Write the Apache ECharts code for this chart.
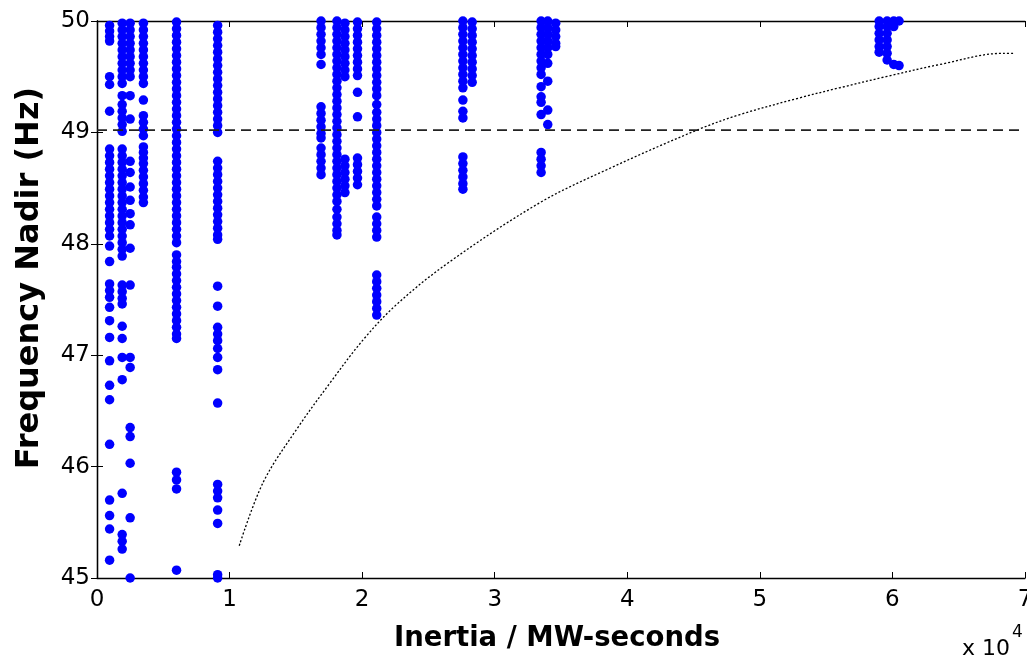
<!DOCTYPE html>
<html>
<head>
<meta charset="utf-8">
<script src="https://cdn.jsdelivr.net/npm/echarts@6/dist/echarts.min.js"></script>
<style>
html,body{margin:0;padding:0;background:#fff;overflow:hidden;}
#chart{width:1027px;height:663px;}
</style>
</head>
<body>
<div id="chart"></div>
<script>
// x values are in units of 10^4 MW-seconds
const xTicks = [0, 1, 2, 3, 4, 5, 6, 7];
const yTicks = [45, 46, 47, 48, 49, 50];
const thresholdY = 49.02;

const colA_x = 0.095;
const colA_y = [49.96, 49.91, 49.86, 49.82, 49.50, 49.43, 49.19, 48.85, 48.79, 48.73, 48.67, 48.61, 48.55, 48.49, 48.43, 48.37, 48.31, 48.25, 48.19, 48.13, 48.07, 47.98, 47.84, 47.64, 47.58, 47.52, 47.43, 47.31, 47.16, 46.95, 46.73, 46.60, 46.20, 45.70, 45.56, 45.44, 45.16];
const colB1_x = 0.19;
const colB1_y = [49.98, 49.92, 49.86, 49.80, 49.74, 49.68, 49.62, 49.56, 49.50, 49.44, 49.33, 49.25, 49.19, 49.13, 49.07, 49.01, 48.85, 48.79, 48.73, 48.67, 48.61, 48.55, 48.49, 48.43, 48.37, 48.31, 48.25, 48.19, 48.13, 48.07, 48.01, 47.95, 47.89, 47.63, 47.57, 47.51, 47.46, 47.26, 47.15, 46.98, 46.78, 45.76, 45.39, 45.33, 45.26];
const colB2_x = 0.25;
const colB2_y = [49.98, 49.92, 49.86, 49.80, 49.74, 49.68, 49.62, 49.56, 49.50, 49.33, 49.12, 48.74, 48.64, 48.51, 48.39, 48.27, 48.17, 47.96, 47.63, 46.98, 46.89, 46.35, 46.27, 46.03, 45.54, 45.00];
const colC_x = 0.35;
const colC_y = [49.98, 49.92, 49.86, 49.80, 49.74, 49.68, 49.62, 49.56, 49.50, 49.44, 49.29, 49.15, 49.09, 49.03, 48.97, 48.87, 48.82, 48.77, 48.72, 48.66, 48.60, 48.54, 48.48, 48.42, 48.37];
const colD_x = 0.60;
const colD_y = [49.99, 49.93, 49.87, 49.81, 49.75, 49.69, 49.63, 49.57, 49.51, 49.45, 49.39, 49.33, 49.27, 49.21, 49.15, 49.09, 49.03, 48.97, 48.91, 48.85, 48.79, 48.73, 48.67, 48.61, 48.55, 48.49, 48.43, 48.37, 48.31, 48.25, 48.19, 48.13, 48.07, 48.01, 47.90, 47.84, 47.79, 47.73, 47.67, 47.61, 47.55, 47.49, 47.43, 47.37, 47.31, 47.25, 47.19, 47.15, 45.95, 45.88, 45.80, 45.07];
const colE_x = 0.91;
const colE_y = [49.96, 49.90, 49.84, 49.78, 49.72, 49.66, 49.60, 49.54, 49.48, 49.42, 49.36, 49.30, 49.24, 49.18, 49.12, 49.06, 49.00, 48.74, 48.68, 48.62, 48.56, 48.50, 48.44, 48.38, 48.32, 48.26, 48.20, 48.14, 48.08, 48.04, 47.62, 47.44, 47.25, 47.19, 47.13, 47.06, 46.98, 46.87, 46.57, 45.84, 45.78, 45.72, 45.61, 45.49, 45.03, 45.00];
const colF_x = 1.69;
const colF_y = [50.00, 49.94, 49.88, 49.82, 49.76, 49.70, 49.61, 49.23, 49.17, 49.11, 49.05, 48.99, 48.95, 48.86, 48.80, 48.74, 48.68, 48.62];
const colG1_x = 1.81;
const colG1_y = [50.00, 49.94, 49.88, 49.82, 49.76, 49.70, 49.64, 49.58, 49.52, 49.46, 49.40, 49.34, 49.28, 49.22, 49.16, 49.10, 49.04, 48.98, 48.92, 48.86, 48.80, 48.74, 48.68, 48.62, 48.56, 48.50, 48.44, 48.38, 48.31, 48.24, 48.18, 48.12, 48.08];
const colG2_x = 1.87;
const colG2_y = [49.98, 49.92, 49.86, 49.80, 49.74, 49.68, 49.62, 49.56, 49.50, 48.76, 48.70, 48.64, 48.58, 48.52, 48.46];
const colH_x = 1.965;
const colH_y = [49.99, 49.93, 49.87, 49.81, 49.75, 49.69, 49.63, 49.57, 49.51, 49.36, 49.14, 48.77, 48.71, 48.65, 48.59, 48.53];
const colI_x = 2.11;
const colI_y = [49.99, 49.93, 49.87, 49.81, 49.75, 49.69, 49.63, 49.57, 49.51, 49.45, 49.39, 49.33, 49.25, 49.18, 49.12, 49.06, 49.00, 48.94, 48.88, 48.82, 48.76, 48.70, 48.64, 48.58, 48.52, 48.46, 48.40, 48.34, 48.24, 48.18, 48.12, 48.06, 47.72, 47.66, 47.60, 47.54, 47.48, 47.42, 47.36];
const colJ1_x = 2.76;
const colJ1_y = [50.00, 49.94, 49.88, 49.82, 49.76, 49.70, 49.64, 49.58, 49.52, 49.46, 49.40, 49.29, 49.19, 49.13, 48.78, 48.72, 48.66, 48.60, 48.54, 48.49];
const colJ2_x = 2.83;
const colJ2_y = [49.99, 49.93, 49.87, 49.81, 49.75, 49.69, 49.63, 49.57, 49.51, 49.45];
const colK1_x = 3.35;
const colK1_y = [50.00, 49.94, 49.88, 49.82, 49.76, 49.70, 49.64, 49.58, 49.52, 49.41, 49.32, 49.27, 49.16, 48.82, 48.76, 48.70, 48.64];
const colK2_x = 3.40;
const colK2_y = [50.00, 49.94, 49.88, 49.82, 49.76, 49.70, 49.62, 49.46, 49.20, 49.07];
const colK3_x = 3.46;
const colK3_y = [49.98, 49.92, 49.86, 49.80, 49.77];
const colL1_x = 5.90;
const colL1_y = [50.00, 49.95, 49.89, 49.83, 49.77, 49.72];
const colL2_x = 5.96;
const colL2_y = [50.00, 49.95, 49.89, 49.83, 49.77, 49.71, 49.65];
const colL3_x = 6.01;
const colL3_y = [50.00, 49.95, 49.61];
const colL4_x = 6.05;
const colL4_y = [50.00, 49.60];

// dotted trend curve
const curveX = [1.073, 1.254, 1.506, 1.757, 2.009, 2.26, 2.65, 3.342, 3.845, 4.524, 4.85, 5.30, 5.60, 5.95, 6.359, 6.836, 6.91];
const curveY = [45.29, 45.86, 46.335, 46.75, 47.14, 47.455, 47.83, 48.37, 48.665, 49.02, 49.16, 49.31, 49.40, 49.50, 49.61, 49.71, 49.71];

const columns = [
  [colA_x, colA_y], [colB1_x, colB1_y], [colB2_x, colB2_y], [colC_x, colC_y],
  [colD_x, colD_y], [colE_x, colE_y], [colF_x, colF_y], [colG1_x, colG1_y],
  [colG2_x, colG2_y], [colH_x, colH_y], [colI_x, colI_y], [colJ1_x, colJ1_y],
  [colJ2_x, colJ2_y], [colK1_x, colK1_y], [colK2_x, colK2_y], [colK3_x, colK3_y],
  [colL1_x, colL1_y], [colL2_x, colL2_y], [colL3_x, colL3_y], [colL4_x, colL4_y]
];
const scatterData = [];
columns.forEach(function (c) { c[1].forEach(function (y) { scatterData.push([c[0], y]); }); });
const curveData = curveX.map(function (x, i) { return [x, curveY[i]]; });
const thresholdData = [[xTicks[0], thresholdY], [xTicks[xTicks.length - 1], thresholdY]];

const LABEL_FONT = '"DejaVu Sans", "Liberation Sans", sans-serif';
const TITLE_FONT = '"DejaVu Sans", "Liberation Sans", sans-serif';
const frameLine = { show: true, lineStyle: { color: '#000', width: 1.3 } };
const tick = { show: true, inside: true, length: 6, lineStyle: { color: '#000', width: 1 } };

const chart = echarts.init(document.getElementById('chart'), null, { renderer: 'canvas', width: 1027, height: 663 });
chart.setOption({
  backgroundColor: '#fff',
  animation: false,
  grid: { left: 97, right: 2, top: 21, bottom: 85, containLabel: false, outerBoundsMode: 'none' },
  xAxis: [{
    type: 'value', min: xTicks[0], max: xTicks[xTicks.length - 1], interval: 1, position: 'bottom',
    axisLine: frameLine, splitLine: { show: false }, axisTick: tick,
    axisLabel: { color: '#000', fontSize: 23, fontFamily: LABEL_FONT, margin: 11 },
    name: 'Inertia / MW-seconds', nameLocation: 'middle', nameGap: 47,
    nameTextStyle: { color: '#000', fontSize: 27.5, fontWeight: 'bold', fontFamily: TITLE_FONT, padding: [0, 8, 0, 0] }
  }, {
    type: 'value', min: xTicks[0], max: xTicks[xTicks.length - 1], interval: 1, position: 'top',
    axisLine: frameLine, splitLine: { show: false }, axisTick: tick,
    axisLabel: { show: false }
  }],
  yAxis: [{
    type: 'value', min: yTicks[0], max: yTicks[yTicks.length - 1], interval: 1, position: 'left',
    axisLine: frameLine, splitLine: { show: false }, axisTick: tick,
    axisLabel: { color: '#000', fontSize: 23, fontFamily: LABEL_FONT, margin: 7 }
  }, {
    type: 'value', min: yTicks[0], max: yTicks[yTicks.length - 1], interval: 1, position: 'right',
    axisLine: frameLine, splitLine: { show: false }, axisTick: tick,
    axisLabel: { show: false }
  }],
  series: [{
    type: 'scatter', xAxisIndex: 0, yAxisIndex: 0, clip: false,
    symbol: 'circle', symbolSize: 9.5,
    itemStyle: { color: '#0000ff', opacity: 1 },
    data: scatterData, z: 3
  }, {
    type: 'line', xAxisIndex: 0, yAxisIndex: 0, showSymbol: false, smooth: 0.35,
    lineStyle: { color: '#000', width: 1.3, type: [2, 2] },
    data: curveData, z: 4
  }, {
    type: 'line', xAxisIndex: 0, yAxisIndex: 0, showSymbol: false,
    lineStyle: { color: '#222', width: 1.6, type: [10, 6] },
    data: thresholdData, z: 5
  }],
  graphic: [{
    type: 'text', x: 30, y: 278, rotation: Math.PI / 2,
    style: { text: 'Frequency Nadir (Hz)', fill: '#000', fontSize: 32, fontWeight: 'bold', fontFamily: TITLE_FONT, align: 'center', verticalAlign: 'middle' }
  }, {
    type: 'text', left: 962, top: 638,
    style: { text: 'x 10', fill: '#000', fontSize: 22, fontFamily: LABEL_FONT }
  }, {
    type: 'text', left: 1012, top: 624,
    style: { text: '4', fill: '#000', fontSize: 17, fontFamily: LABEL_FONT }
  }]
});
</script>
</body>
</html>
